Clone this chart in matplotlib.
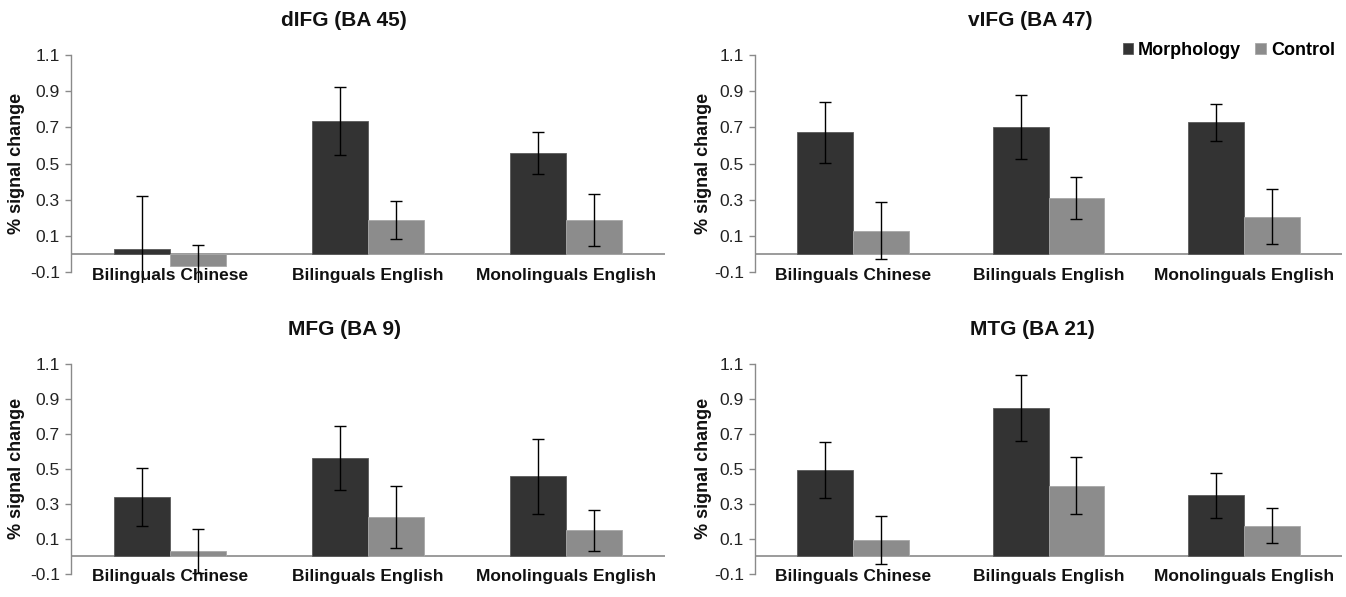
import numpy as np
import matplotlib
matplotlib.use("Agg")
import matplotlib.pyplot as plt
from matplotlib import font_manager as fm

# ---- data -------------------------------------------------------------
groups = ["Bilinguals Chinese", "Bilinguals English", "Monolinguals English"]
regions = ["dIFG (BA 45)", "vIFG (BA 47)", "MFG (BA 9)", "MTG (BA 21)"]
conditions = ["Morphology", "Control"]

difg_morph = [0.03, 0.737, 0.561]
difg_morph_se = [0.29, 0.187, 0.116]
difg_ctrl = [-0.065, 0.188, 0.188]
difg_ctrl_se = [0.115, 0.104, 0.142]

vifg_morph = [0.673, 0.701, 0.727]
vifg_morph_se = [0.17, 0.176, 0.102]
vifg_ctrl = [0.129, 0.31, 0.207]
vifg_ctrl_se = [0.157, 0.114, 0.151]

mfg_morph = [0.338, 0.562, 0.458]
mfg_morph_se = [0.165, 0.185, 0.215]
mfg_ctrl = [0.027, 0.225, 0.147]
mfg_ctrl_se = [0.126, 0.176, 0.117]

mtg_morph = [0.493, 0.849, 0.347]
mtg_morph_se = [0.159, 0.19, 0.129]
mtg_ctrl = [0.092, 0.404, 0.175]
mtg_ctrl_se = [0.135, 0.165, 0.099]

yticks = [-0.1, 0.1, 0.3, 0.5, 0.7, 0.9, 1.1]

# ---- style -------------------------------------------------------------
DARK = "#333333"
LIGHT = "#8c8c8c"
AXIS_GRAY = "#8a8a8a"

installed = {f.name for f in fm.fontManager.ttflist}
NARROW = ["Liberation Sans Narrow", "Liberation Sans", "DejaVu Sans"]
NARROW = [f for f in NARROW if f in installed] or ["DejaVu Sans"]
SANS = ["Liberation Sans", "DejaVu Sans"]

plt.rcParams["font.family"] = SANS

W, H = 1346, 597
fig = plt.figure(figsize=(W / 100, H / 100), dpi=100)


def px_box(x0, x1, ytop, ybot):
    return [x0 / W, 1 - ybot / H, (x1 - x0) / W, (ybot - ytop) / H]


panels = [
    (regions[0], difg_morph, difg_morph_se, difg_ctrl, difg_ctrl_se,
     px_box(71, 665, 55, 283), (344, 20), 17),
    (regions[1], vifg_morph, vifg_morph_se, vifg_ctrl, vifg_ctrl_se,
     px_box(755, 1342, 55, 283), (1030, 20), 703),
    (regions[2], mfg_morph, mfg_morph_se, mfg_ctrl, mfg_ctrl_se,
     px_box(71, 665, 364, 584), (345, 330), 17),
    (regions[3], mtg_morph, mtg_morph_se, mtg_ctrl, mtg_ctrl_se,
     px_box(755, 1342, 364, 584), (1032, 330), 703),
]

x = np.arange(len(groups))
bw = 0.285
ymin, ymax = -0.1, 1.1
clip_bottom = -0.16

for i, (title, m, mse, c, cse, box, tpos, ylab_x) in enumerate(panels):
    ax = fig.add_axes(box)
    # plotting area reaches a little below the lowest tick, like the
    # original spreadsheet plot area
    span = ymax - ymin
    ax.set_ylim(clip_bottom, ymax)
    ax.set_xlim(-0.5, len(groups) - 0.5)

    ax.bar(x - bw / 2, m, bw, color=DARK, edgecolor="#5a5a5a", linewidth=0.6,
           zorder=2, label=conditions[0])
    ax.bar(x + bw / 2, c, bw, color=LIGHT, edgecolor="#a8a8a8", linewidth=0.6,
           zorder=2, label=conditions[1])
    ax.errorbar(x - bw / 2, m, yerr=mse, fmt="none", ecolor="black",
                elinewidth=1.0, capsize=4, capthick=1.0, zorder=3)
    ax.errorbar(x + bw / 2, c, yerr=cse, fmt="none", ecolor="black",
                elinewidth=1.0, capsize=4, capthick=1.0, zorder=3)

    ax.axhline(0, color=AXIS_GRAY, lw=1.2, zorder=1)

    for s in ("top", "right", "bottom"):
        ax.spines[s].set_visible(False)
    ax.spines["left"].set_color(AXIS_GRAY)
    ax.spines["left"].set_linewidth(1.0)
    ax.spines["left"].set_bounds(ymin, ymax)

    ax.set_yticks(yticks)
    ax.set_yticklabels([f"{v:.1f}" for v in yticks], family=NARROW,
                       fontsize=12.5, color="#222222")
    ax.tick_params(axis="y", length=4, width=1.0, color=AXIS_GRAY, pad=4)
    ax.set_xticks([])

    for xi, g in zip(x, groups):
        ax.annotate(g, xy=(xi, ymin), xycoords="data",
                    xytext=(0, -3), textcoords="offset pixels",
                    ha="center", va="center", fontsize=12.5,
                    fontweight="bold", color="#111111", annotation_clip=False)

    fig.text(tpos[0] / W, 1 - tpos[1] / H, title, ha="center", va="center",
             fontsize=15, fontweight="bold", family=NARROW, color="#111111")

    yc = (box[1] + box[3] * ((ymax - clip_bottom) - span / 2) / (ymax - clip_bottom))
    fig.text(ylab_x / W, yc, "% signal change", rotation=90, ha="center",
             va="center", fontsize=13, fontweight="bold", color="#111111")

    if i == 1:
        leg = ax.legend(loc="upper right", bbox_to_anchor=(1.0, 1.09),
                        ncol=2, frameon=False, handlelength=0.6,
                        handleheight=0.6, handletextpad=0.25,
                        columnspacing=0.8, borderaxespad=0.0,
                        prop={"weight": "bold", "size": 13})

fig.savefig("out.png", dpi=100, facecolor="white")
